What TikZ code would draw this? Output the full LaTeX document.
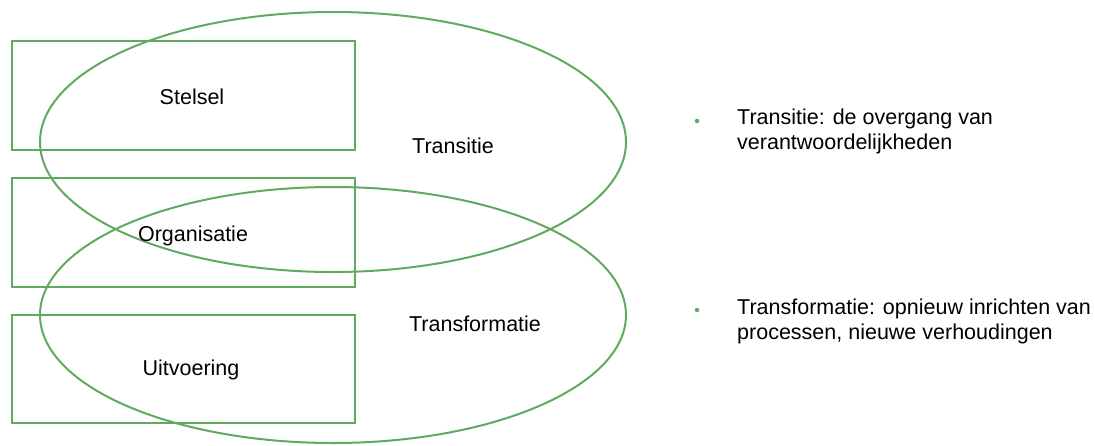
\documentclass[tikz,border=0pt]{standalone}
\usepackage{fontspec}
\setmainfont{Liberation Sans}
\definecolor{grn}{RGB}{95,170,95}
\begin{document}
\begin{tikzpicture}[x=1pt,y=-1pt,
  box/.style={draw=grn,line width=2.2pt},
  ring/.style={draw=grn,line width=2pt},
  lbl/.style={font=\fontsize{21.5}{24}\selectfont,text=black,inner sep=0pt},
  note/.style={font=\fontsize{21.5}{25}\selectfont,text=black,inner sep=0pt,anchor=west,align=left},
  dot/.style={circle,fill=grn,inner sep=0pt,minimum size=4.5pt}]
\useasboundingbox (0,0) rectangle (1095,445);
\draw[box] (12,41) rectangle (355,150) coordinate (r1);
\draw[box] (12,178) rectangle (355,287) coordinate (r2);
\draw[box] (12,315) rectangle (355,423) coordinate (r3);
\draw[ring] (333,142) ellipse [x radius=293, y radius=130];
\draw[ring] (333,315) ellipse [x radius=293, y radius=128];
\node[lbl] (stelsel) at (192,97) {Stelsel};
\node[lbl] (org) at (193,236) {Organisatie};
\node[lbl] (uitv) at (191,370) {Uitvoering};
\node[lbl] (trans) at (453,146) {Transitie};
\node[lbl] (transf) at (475,324) {Transformatie};
\node[dot] (d1) at (697,121) {};
\node[dot] (d2) at (697,310) {};
\node[note] (n1) at (737,131) {Transitie: de overgang van\\verantwoordelijkheden};
\node[note] (n2) at (737,321) {Transformatie: opnieuw inrichten van\\processen, nieuwe verhoudingen};
\end{tikzpicture}
\end{document}
